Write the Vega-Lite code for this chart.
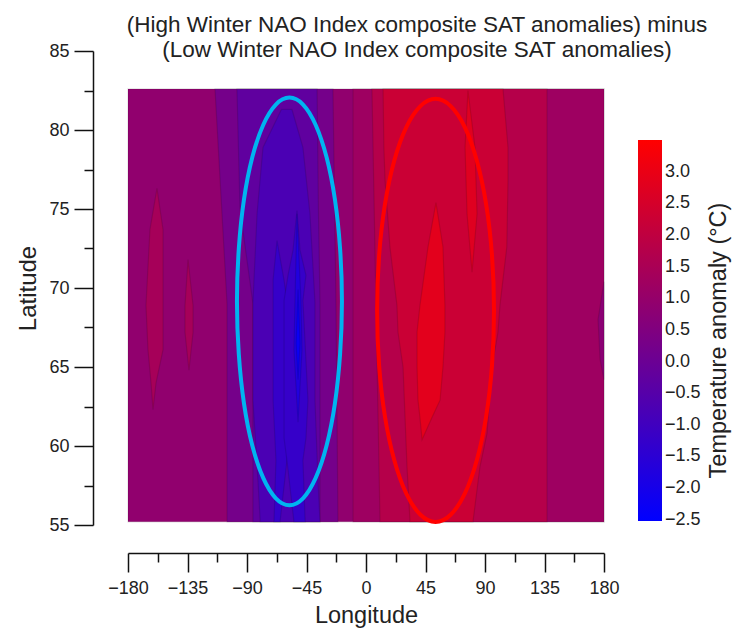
{
"$schema":"https://vega.github.io/schema/vega-lite/v6.json",
"width":476,"height":474,
"autosize":"none",
"padding":{"left":128,"top":51,"right":140,"bottom":103},
"background":"white",
"config":{"font":"Liberation Sans","view":{"stroke":null}},
"title":{"text":["(High Winter NAO Index composite SAT anomalies) minus","(Low Winter NAO Index composite SAT anomalies)"],"fontSize":22.5,"fontWeight":"normal","color":"#222222","anchor":"middle","dx":51,"lineHeight":25,"offset":-19},
"datasets":{
"regions":[
{"region":"r00","lat":55.2,"west":-180,"east":180,"t":0.9},{"region":"r00","lat":82.6,"west":-180,"east":180,"t":0.9},
{"region":"r01","lat":55.2,"west":-9.8,"east":180,"t":1.2},{"region":"r01","lat":82.6,"west":-9.8,"east":180,"t":1.2},
{"region":"r03","lat":55.2,"west":10.6,"east":136.9,"t":1.75},{"region":"r03","lat":82.6,"west":4.5,"east":136.9,"t":1.75},
{"region":"r04","lat":55.2,"west":33.3,"east":80.9,"t":2.25},{"region":"r04","lat":58.7,"west":31,"east":86.2,"t":2.25},{"region":"r04","lat":60.8,"west":30,"east":91.5,"t":2.25},{"region":"r04","lat":65,"west":28,"east":95.3,"t":2.25},{"region":"r04","lat":67.2,"west":24.2,"east":99.8,"t":2.25},{"region":"r04","lat":68.9,"west":23.4,"east":101.3,"t":2.25},{"region":"r04","lat":72.6,"west":18.1,"east":106.5,"t":2.25},{"region":"r04","lat":76.8,"west":14.4,"east":107.4,"t":2.25},{"region":"r04","lat":78.9,"west":13.5,"east":107.4,"t":2.25},{"region":"r04","lat":82.6,"west":12.9,"east":103.6,"t":2.25},
{"region":"r05","lat":60.4,"west":42.4,"east":42.4,"t":2.85},{"region":"r05","lat":61.8,"west":40.8,"east":49.9,"t":2.85},{"region":"r05","lat":62.9,"west":39.3,"east":56,"t":2.85},{"region":"r05","lat":65,"west":38.6,"east":58.2,"t":2.85},{"region":"r05","lat":67.2,"west":38.6,"east":59.7,"t":2.85},{"region":"r05","lat":68.9,"west":40.8,"east":59.7,"t":2.85},{"region":"r05","lat":72.6,"west":46.9,"east":58.2,"t":2.85},{"region":"r05","lat":75.4,"west":52.9,"east":52.9,"t":2.85},
{"region":"r06","lat":71,"west":80.2,"east":80.2,"t":2.75},{"region":"r06","lat":74.7,"west":76.4,"east":84,"t":2.75},{"region":"r06","lat":78.9,"west":74.9,"east":82.4,"t":2.75},{"region":"r06","lat":82.5,"west":77.1,"east":77.1,"t":2.75},
{"region":"r07","lat":62.3,"west":-161.1,"east":-161.1,"t":1.4},{"region":"r07","lat":64,"west":-162.6,"east":-158.8,"t":1.4},{"region":"r07","lat":66.1,"west":-164.9,"east":-153.5,"t":1.4},{"region":"r07","lat":68.9,"west":-166.4,"east":-153.5,"t":1.4},{"region":"r07","lat":73.7,"west":-163.4,"east":-153.5,"t":1.4},{"region":"r07","lat":76.3,"west":-158.1,"east":-158.1,"t":1.4},
{"region":"r08","lat":64.8,"west":-133.9,"east":-133.9,"t":1.4},{"region":"r08","lat":67.2,"west":-136.9,"east":-130.8,"t":1.4},{"region":"r08","lat":68.9,"west":-136.9,"east":-130.8,"t":1.4},{"region":"r08","lat":71.8,"west":-134.6,"east":-134.6,"t":1.4},
{"region":"r09","lat":64.2,"west":180,"east":180,"t":0.75},{"region":"r09","lat":65.5,"west":177,"east":180,"t":0.75},{"region":"r09","lat":68,"west":175.5,"east":180,"t":0.75},{"region":"r09","lat":70.4,"west":180,"east":180,"t":0.75},
{"region":"r10","lat":55.2,"west":-105.1,"east":-21.2,"t":0.25},{"region":"r10","lat":69,"west":-105.1,"east":-22.7,"t":0.25},{"region":"r10","lat":82.6,"west":-114.2,"east":-25,"t":0.25},
{"region":"r11","lat":55.2,"west":-85.5,"east":-34.8,"t":-0.25},{"region":"r11","lat":69,"west":-85.5,"east":-34.8,"t":-0.25},{"region":"r11","lat":75,"west":-95.3,"east":-36,"t":-0.25},{"region":"r11","lat":82.6,"west":-97.6,"east":-37,"t":-0.25},
{"region":"r12","lat":55.2,"west":-80,"east":-34.8,"t":-0.75},{"region":"r12","lat":57.8,"west":-81.7,"east":-36.3,"t":-0.75},{"region":"r12","lat":62.9,"west":-85.5,"east":-38.6,"t":-0.75},{"region":"r12","lat":69.1,"west":-85.5,"east":-38.6,"t":-0.75},{"region":"r12","lat":74.7,"west":-82.4,"east":-42.4,"t":-0.75},{"region":"r12","lat":78.9,"west":-77.9,"east":-47.7,"t":-0.75},{"region":"r12","lat":81.3,"west":-64,"east":-56,"t":-0.75},
{"region":"r13a","lat":55.2,"west":-69.6,"east":-65,"t":-1.25},{"region":"r13a","lat":59.1,"west":-68.1,"east":-59.8,"t":-1.25},{"region":"r13a","lat":62.9,"west":-70.3,"east":-57,"t":-1.25},{"region":"r13a","lat":69.2,"west":-70.3,"east":-59.8,"t":-1.25},{"region":"r13a","lat":70.5,"west":-70.3,"east":-62,"t":-1.25},{"region":"r13a","lat":73,"west":-67.3,"east":-67.3,"t":-1.25},
{"region":"r13b","lat":55.2,"west":-54.5,"east":-46,"t":-1.25},{"region":"r13b","lat":59.1,"west":-59.8,"east":-47.7,"t":-1.25},{"region":"r13b","lat":60.5,"west":-62,"east":-45.4,"t":-1.25},{"region":"r13b","lat":62.9,"west":-62,"east":-43.9,"t":-1.25},{"region":"r13b","lat":69.2,"west":-62,"east":-47.7,"t":-1.25},{"region":"r13b","lat":70.8,"west":-59,"east":-45.4,"t":-1.25},{"region":"r13b","lat":72.4,"west":-55.2,"east":-49.9,"t":-1.25},{"region":"r13b","lat":74.9,"west":-52.2,"east":-52.2,"t":-1.25},
{"region":"r14","lat":61.5,"west":-51.4,"east":-51.4,"t":-1.75},{"region":"r14","lat":66.1,"west":-54.5,"east":-48.4,"t":-1.75},{"region":"r14","lat":69.2,"west":-53.7,"east":-49.2,"t":-1.75},{"region":"r14","lat":74.7,"west":-52.2,"east":-52.2,"t":-1.75},
{"region":"r15","lat":64.2,"west":-51.4,"east":-51.4,"t":-2.25},{"region":"r15","lat":66.5,"west":-52.9,"east":-49.9,"t":-2.25},{"region":"r15","lat":69.9,"west":-51.4,"east":-51.4,"t":-2.25}
],
"ellipses":[
{"ellipse":"low","n":0,"lon":-18.2,"lat":69.15},{"ellipse":"low","n":1,"lon":-19.6,"lat":72.49},{"ellipse":"low","n":2,"lon":-23.5,"lat":75.6},{"ellipse":"low","n":3,"lon":-29.8,"lat":78.27},{"ellipse":"low","n":4,"lon":-38.05,"lat":80.32},{"ellipse":"low","n":5,"lon":-47.6,"lat":81.61},{"ellipse":"low","n":6,"lon":-57.9,"lat":82.05},{"ellipse":"low","n":7,"lon":-68.2,"lat":81.61},{"ellipse":"low","n":8,"lon":-77.75,"lat":80.32},{"ellipse":"low","n":9,"lon":-86,"lat":78.27},{"ellipse":"low","n":10,"lon":-92.3,"lat":75.6},{"ellipse":"low","n":11,"lon":-96.2,"lat":72.49},{"ellipse":"low","n":12,"lon":-97.6,"lat":69.15},{"ellipse":"low","n":13,"lon":-96.2,"lat":65.81},{"ellipse":"low","n":14,"lon":-92.3,"lat":62.7},{"ellipse":"low","n":15,"lon":-86,"lat":60.03},{"ellipse":"low","n":16,"lon":-77.75,"lat":57.98},{"ellipse":"low","n":17,"lon":-68.2,"lat":56.69},{"ellipse":"low","n":18,"lon":-57.9,"lat":56.25},{"ellipse":"low","n":19,"lon":-47.6,"lat":56.69},{"ellipse":"low","n":20,"lon":-38.05,"lat":57.98},{"ellipse":"low","n":21,"lon":-29.8,"lat":60.03},{"ellipse":"low","n":22,"lon":-23.5,"lat":62.7},{"ellipse":"low","n":23,"lon":-19.6,"lat":65.81}
],
"ellipsesHigh":[
{"ellipse":"high","n":0,"lon":96.8,"lat":68.58},{"ellipse":"high","n":1,"lon":95.3,"lat":72.05},{"ellipse":"high","n":2,"lon":90.9,"lat":75.28},{"ellipse":"high","n":3,"lon":83.85,"lat":78.05},{"ellipse":"high","n":4,"lon":74.7,"lat":80.18},{"ellipse":"high","n":5,"lon":64.04,"lat":81.51},{"ellipse":"high","n":6,"lon":52.6,"lat":81.97},{"ellipse":"high","n":7,"lon":41.16,"lat":81.51},{"ellipse":"high","n":8,"lon":30.5,"lat":80.18},{"ellipse":"high","n":9,"lon":21.35,"lat":78.05},{"ellipse":"high","n":10,"lon":14.3,"lat":75.28},{"ellipse":"high","n":11,"lon":9.9,"lat":72.05},{"ellipse":"high","n":12,"lon":8.4,"lat":68.58},{"ellipse":"high","n":13,"lon":9.9,"lat":65.11},{"ellipse":"high","n":14,"lon":14.3,"lat":61.88},{"ellipse":"high","n":15,"lon":21.35,"lat":59.11},{"ellipse":"high","n":16,"lon":30.5,"lat":56.98},{"ellipse":"high","n":17,"lon":41.16,"lat":55.65},{"ellipse":"high","n":18,"lon":52.6,"lat":55.19},{"ellipse":"high","n":19,"lon":64.04,"lat":55.65},{"ellipse":"high","n":20,"lon":74.7,"lat":56.98},{"ellipse":"high","n":21,"lon":83.85,"lat":59.11},{"ellipse":"high","n":22,"lon":90.9,"lat":61.88},{"ellipse":"high","n":23,"lon":95.3,"lat":65.11}
]},
"resolve":{"axis":{"x":"independent","y":"independent"}},
"layer":[
{"data":{"name":"regions"},
 "mark":{"type":"area","interpolate":"linear","orient":"horizontal","fillOpacity":1,"stroke":"#000000","strokeOpacity":0.12,"strokeWidth":1.2},
 "encoding":{
 "y":{"field":"lat","type":"quantitative","scale":{"domain":[55,85],"nice":false,"zero":false},
  "axis":{"orient":"left","offset":35,"values":[55,60,65,70,75,80,85],"tickSize":19,"tickWidth":1.5,"tickColor":"#111111","domainColor":"#111111","domainWidth":1.5,"labelFontSize":18,"labelColor":"#222222","labelPadding":5,"title":"Latitude","titleFontSize":24,"titleFontWeight":"normal","titleColor":"#222222","titlePadding":8,"grid":false}},
 "x":{"field":"west","type":"quantitative","scale":{"domain":[-180,180],"nice":false,"zero":false},
  "axis":{"orient":"bottom","offset":28,"values":[-180,-135,-90,-45,0,45,90,135,180],"tickSize":19,"tickWidth":1.5,"tickColor":"#111111","domainColor":"#111111","domainWidth":1.5,"labelFontSize":18,"labelColor":"#222222","labelPadding":7,"labelFlush":false,"labelOverlap":false,"title":"Longitude","titleFontSize":23.5,"titleFontWeight":"normal","titleColor":"#222222","titlePadding":6,"grid":false}},
 "x2":{"field":"east"},
 "detail":{"field":"region"},
 "color":{"field":"t","type":"quantitative","scale":{"domain":[-2.52,3.5],"range":["#0000ff","#ff0000"],"interpolate":"rgb"},
  "legend":{"type":"gradient","orient":"none","legendX":510,"legendY":89,"direction":"vertical","gradientLength":381,"gradientThickness":24,"values":[-2.5,-2,-1.5,-1,-0.5,0,0.5,1,1.5,2,2.5,3],"format":".1f","labelFontSize":18,"labelColor":"#222222","labelOverlap":false,"labelOffset":3,"title":null}}
 }},
{"data":{"name":"ellipses"},
 "mark":{"type":"line","interpolate":"cardinal-closed","strokeWidth":4,"color":"#00b4f0"},
 "encoding":{
 "x":{"field":"lon","type":"quantitative","scale":{"domain":[-180,180],"nice":false,"zero":false},
  "axis":{"orient":"bottom","offset":28,"values":[-157.5,-112.5,-67.5,-22.5,22.5,67.5,112.5,157.5],"tickSize":9,"tickWidth":1.5,"tickColor":"#111111","domain":false,"labels":false,"title":null,"grid":false}},
 "y":{"field":"lat","type":"quantitative","scale":{"domain":[55,85],"nice":false,"zero":false},
  "axis":{"orient":"left","offset":35,"values":[57.5,62.5,67.5,72.5,77.5,82.5],"tickSize":9,"tickWidth":1.5,"tickColor":"#111111","domain":false,"labels":false,"title":null,"grid":false}},
 "order":{"field":"n","type":"quantitative"}
 }},
{"data":{"name":"ellipsesHigh"},
 "mark":{"type":"line","interpolate":"cardinal-closed","strokeWidth":4,"color":"#ff0000"},
 "encoding":{
 "x":{"field":"lon","type":"quantitative","scale":{"domain":[-180,180],"nice":false,"zero":false},"axis":null},
 "y":{"field":"lat","type":"quantitative","scale":{"domain":[55,85],"nice":false,"zero":false},
  "axis":{"orient":"right","domain":false,"ticks":false,"labels":false,"grid":false,"title":"Temperature anomaly (°C)","titleFontSize":23.5,"titleFontWeight":"normal","titleColor":"#222222","titleAngle":-90,"titleBaseline":"middle","titleX":114,"titleY":289}},
 "order":{"field":"n","type":"quantitative"}
 }}
]
}
